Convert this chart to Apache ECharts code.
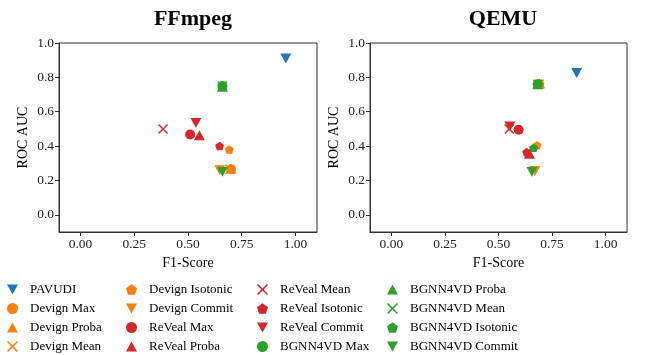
<!DOCTYPE html>
<html>
<head>
<meta charset="utf-8">
<script src="https://cdn.jsdelivr.net/npm/echarts@6/dist/echarts.min.js"></script>
<style>
  html, body { margin: 0; padding: 0; background: #fff; }
  #chart { width: 651px; height: 355px; }
</style>
</head>
<body>
<div id="chart"></div>
<script>
// data
var methods = ['PAVUDI',
  'Devign Max', 'Devign Proba', 'Devign Mean', 'Devign Isotonic', 'Devign Commit',
  'ReVeal Max', 'ReVeal Proba', 'ReVeal Mean', 'ReVeal Isotonic', 'ReVeal Commit',
  'BGNN4VD Max', 'BGNN4VD Proba', 'BGNN4VD Mean', 'BGNN4VD Isotonic', 'BGNN4VD Commit'];

var ffmpegF1  = [0.955, 0.700, 0.700, 0.695, 0.692, 0.648, 0.510, 0.553, 0.384, 0.647, 0.537, 0.660, 0.660, 0.660, 0.660, 0.660];
var ffmpegAuc = [0.910, 0.265, 0.270, 0.265, 0.380, 0.260, 0.467, 0.463, 0.500, 0.400, 0.535, 0.750, 0.745, 0.750, 0.750, 0.250];

var qemuF1  = [0.865, 0.690, 0.692, 0.690, 0.680, 0.670, 0.594, 0.645, 0.550, 0.632, 0.553, 0.683, 0.683, 0.683, 0.664, 0.656];
var qemuAuc = [0.825, 0.760, 0.765, 0.760, 0.405, 0.255, 0.495, 0.355, 0.500, 0.365, 0.515, 0.760, 0.760, 0.760, 0.390, 0.250];

var xTicks = [0, 0.25, 0.5, 0.75, 1.0];
var yTicks = [0, 0.2, 0.4, 0.6, 0.8, 1.0];

var blue = '#1f77b4', orange = '#ff7f0e', green = '#2ca02c', red = '#d62728';
var triDown = 'path://M0,0L10,0L5,9Z';
var triUp = 'path://M5,0L10,9L0,9Z';
var penta = 'path://M50,0L97.6,34.5L79.4,90.5L20.6,90.5L2.4,34.5Z';
var cross = 'path://M0,1L1,0L5,4L9,0L10,1L6,5L10,9L9,10L5,6L1,10L0,9L4,5Z';
var shapes = { Max: 'circle', Proba: triUp, Mean: cross, Isotonic: penta, Commit: triDown };
var colors = { Devign: orange, ReVeal: red, BGNN4VD: green };

function styleOf(name) {
  if (name === 'PAVUDI') return { color: blue, symbol: triDown, size: 11 };
  var p = name.split(' ');
  var kind = p[1];
  var size = kind === 'Max' ? 10 : kind === 'Isotonic' ? 9 : kind === 'Mean' ? 10 : 11;
  return { color: colors[p[0]], symbol: shapes[kind], size: size };
}

var font = 'Liberation Serif';

function makeX(gi) {
  return {
    gridIndex: gi, type: 'value', min: -0.1, max: 1.1,
    name: 'F1-Score', nameLocation: 'middle', nameGap: 12,
    nameTextStyle: { fontFamily: font, fontSize: 14, color: '#000' },
    splitLine: { show: false },
    axisLine: { show: true, onZero: false, lineStyle: { color: '#333', width: 1 } },
    axisTick: { show: true, length: 4, customValues: xTicks, lineStyle: { color: '#333' } },
    axisLabel: { customValues: xTicks, fontFamily: font, fontSize: 13.5, color: '#222', margin: 5,
      formatter: function (v) { return v.toFixed(2); } }
  };
}
function makeY(gi) {
  return {
    gridIndex: gi, type: 'value', min: -0.1, max: 1.0,
    name: 'ROC AUC', nameLocation: 'middle', nameGap: 29,
    nameTextStyle: { fontFamily: font, fontSize: 14, color: '#000' },
    splitLine: { show: false },
    axisLine: { show: true, onZero: false, lineStyle: { color: '#333', width: 1 } },
    axisTick: { show: true, length: 4, customValues: yTicks, lineStyle: { color: '#333' } },
    axisLabel: { customValues: yTicks, fontFamily: font, fontSize: 13.5, color: '#222', margin: 5,
      formatter: function (v) { return v.toFixed(1); } }
  };
}

var series = [];
[[ffmpegF1, ffmpegAuc], [qemuF1, qemuAuc]].forEach(function (d, gi) {
  methods.forEach(function (m, i) {
    var s = styleOf(m);
    series.push({
      name: m, type: 'scatter', xAxisIndex: gi, yAxisIndex: gi,
      symbol: s.symbol, symbolSize: s.size, symbolKeepAspect: true,
      itemStyle: { color: s.color, opacity: 1 },
      data: [[d[0][i], d[1][i]]]
    });
  });
});

var legendLefts = [7, 126, 257, 387];
var legends = legendLefts.map(function (l, c) {
  return {
    orient: 'vertical', left: l, top: 283, height: 72, itemGap: 6, itemWidth: 11, itemHeight: 11,
    padding: 0, selectedMode: false,
    textStyle: { fontFamily: font, fontSize: 13, lineHeight: 13, color: '#000', padding: [0, 0, 0, 7] },
    data: methods.slice(c * 4, c * 4 + 4).map(function (m) {
      return { name: m, icon: styleOf(m).symbol };
    })
  };
});

var chart = echarts.init(document.getElementById('chart'), null, { renderer: 'canvas' });
chart.setOption({
  animation: false,
  backgroundColor: '#fff',
  title: [
    { text: 'FFmpeg', left: 188, top: 3, textAlign: 'center',
      textStyle: { fontFamily: font, fontSize: 22, fontWeight: 'bold', color: '#000' } },
    { text: 'QEMU', left: 498, top: 3, textAlign: 'center',
      textStyle: { fontFamily: font, fontSize: 22, fontWeight: 'bold', color: '#000' } }
  ],
  grid: [
    { left: 59, top: 43, width: 258, height: 189, show: true, borderColor: '#333', borderWidth: 1 },
    { left: 370, top: 43, width: 257, height: 189, show: true, borderColor: '#333', borderWidth: 1 }
  ],
  legend: legends,
  xAxis: [makeX(0), makeX(1)],
  yAxis: [makeY(0), makeY(1)],
  series: series
});
</script>
</body>
</html>
